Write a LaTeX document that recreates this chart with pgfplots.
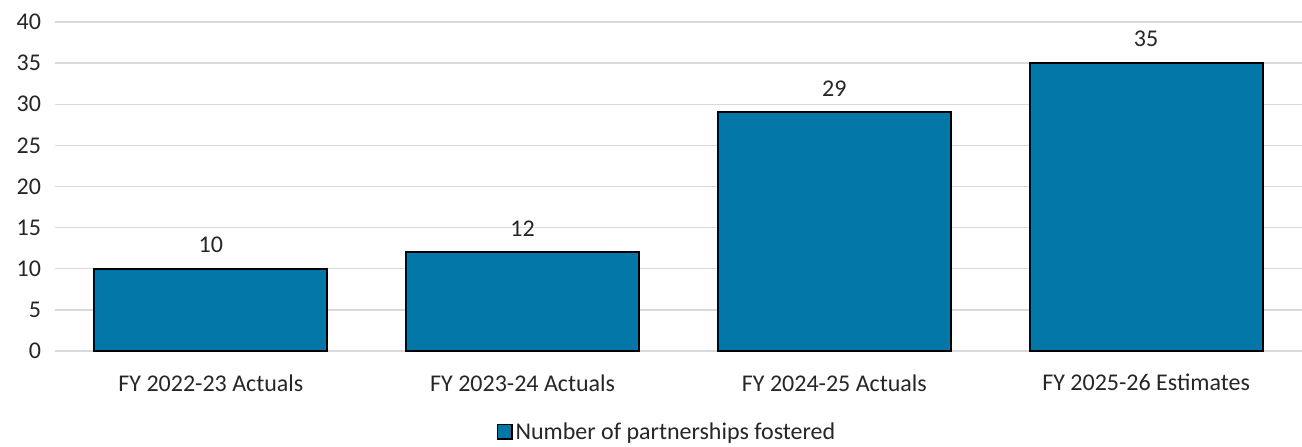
\documentclass[border=0pt]{standalone}
\usepackage{fontspec}
\setmainfont{Carlito}
\usepackage{pgfplots}
\pgfplotsset{compat=1.18}
\definecolor{barblue}{HTML}{0377A8}
\definecolor{gridgray}{HTML}{D9D9D9}
\begin{document}
\begin{tikzpicture}
\begin{axis}[
  at={(0pt,0pt)}, anchor=south west,
  scale only axis,
  width=935.25pt, height=246.75pt,
  ymin=0, ymax=40, ytick={0,5,...,40},
  xmin=-0.5, xmax=3.5,
  xtick=data,
  xticklabels={FY 2022-23 Actuals, FY 2023-24 Actuals, FY 2024-25 Actuals, FY 2025-26 Estimates},
  axis line style={draw=none},
  major tick length=0pt,
  ymajorgrids, grid style={gridgray, line width=1.1pt},
  tick label style={font=\fontsize{18}{21}\selectfont, text=black!85},
  /pgf/number format/assume math mode=true,
  yticklabel style={xshift=-7pt},
  xticklabel style={yshift=-14pt},
  legend style={at={(0.491,-0.246)}, anchor=center, draw=none, fill=none, font=\fontsize{18}{21}\selectfont, text=black!85,
    inner sep=0pt,
    /tikz/every even column/.append style={column sep=3pt}},
]
\addplot[ybar, bar width=174.75pt, fill=barblue, draw=black, line width=1.5pt, forget plot,
  nodes near coords,
  nodes near coords style={font=\fontsize{18}{21}\selectfont, text=black!85, yshift=8pt}]
  coordinates {(0,10) (1,12) (2,29) (3,35)};
\addlegendimage{legend image code/.code={\draw[fill=barblue, draw=black, line width=1.2pt] (0pt,-5.5pt) rectangle (11pt,5.5pt);}}
\addlegendentry{Number of partnerships fostered}
\end{axis}
\pgfresetboundingbox
\path (-41.25pt,-71.25pt) rectangle (935.25pt,263.25pt);
\end{tikzpicture}
\end{document}
